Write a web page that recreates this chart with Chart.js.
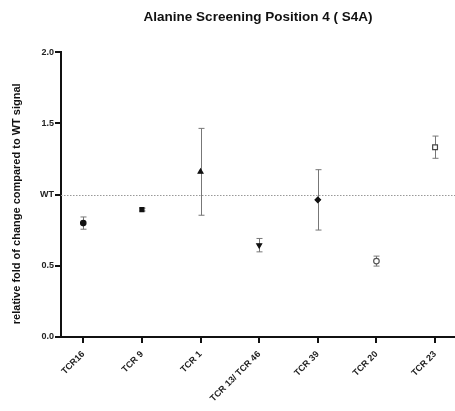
<!DOCTYPE html>
<html>
<head>
<meta charset="utf-8">
<script src="https://cdn.jsdelivr.net/npm/chart.js@4/dist/chart.umd.min.js"></script>
<style>
  html, body { margin: 0; padding: 0; background: #fff; overflow: hidden; }
  #wrap { width: 455px; height: 411px; }
</style>
</head>
<body>
<div id="wrap"><canvas id="alaChart"></canvas></div>
<script>
// data
var tcrLabels = ['TCR16', 'TCR 9', 'TCR 1', 'TCR 13/ TCR 46', 'TCR 39', 'TCR 20', 'TCR 23'];
var foldChange = [0.80, 0.895, 1.16, 0.645, 0.963, 0.533, 1.333];
var foldError = [0.043, 0.01, 0.305, 0.047, 0.212, 0.035, 0.078];
var yTickValues = [0, 0.5, 1.0, 1.5, 2.0];
var yTickLabels = ['0.0', '0.5', 'WT', '1.5', '2.0'];
var wtLevel = 1.0;

var markerStyles = ['circle', 'rect', 'triangle', 'triangle', 'rectRot', 'circle', 'rect'];
var markerRotation = [0, 0, 0, 180, 0, 0, 0];
var markerFill = ['#111', '#111', '#111', '#111', '#111', '#fff', '#fff'];
var markerEdge = ['#111', '#111', '#111', '#111', '#111', '#555', '#444'];
var markerSize = [2.7, 2.8, 2.8, 2.8, 2.8, 2.8, 3.4];

var points = foldChange.map(function (v, i) { return { x: i, y: v }; });

var errorBars = {
    id: 'errorBars',
    beforeDatasetsDraw: function (chart) {
        var ctx = chart.ctx, xs = chart.scales.x, ys = chart.scales.y;
        var area = chart.chartArea;
        // WT reference line
        var wy = Math.round(ys.getPixelForValue(wtLevel)) + 0.5;
        ctx.save();
        ctx.strokeStyle = '#999';
        ctx.lineWidth = 1;
        ctx.setLineDash([1.5, 1.5]);
        ctx.beginPath();
        ctx.moveTo(area.left, wy);
        ctx.lineTo(area.right, wy);
        ctx.stroke();
        ctx.setLineDash([]);
        ctx.strokeStyle = '#777';
        foldChange.forEach(function (v, i) {
            var px = Math.round(xs.getPixelForValue(i)) + 0.5;
            var top = ys.getPixelForValue(v + foldError[i]);
            var bot = ys.getPixelForValue(v - foldError[i]);
            ctx.beginPath();
            ctx.moveTo(px, top); ctx.lineTo(px, bot);
            ctx.moveTo(px - 3, top); ctx.lineTo(px + 3, top);
            ctx.moveTo(px - 3, bot); ctx.lineTo(px + 3, bot);
            ctx.stroke();
        });
        ctx.restore();
    }
};

Chart.defaults.font.family = '"Liberation Sans", Arial, sans-serif';
Chart.defaults.color = '#222';

new Chart(document.getElementById('alaChart').getContext('2d'), {
    type: 'scatter',
    data: {
        datasets: [{
            data: points,
            pointStyle: markerStyles,
            rotation: markerRotation,
            backgroundColor: markerFill,
            borderColor: markerEdge,
            borderWidth: 1.2,
            pointRadius: markerSize,
            pointHoverRadius: markerSize
        }]
    },
    options: {
        responsive: true,
        maintainAspectRatio: false,
        animation: false,
        layout: { autoPadding: false, padding: 0 },
        plugins: {
            legend: { display: false },
            tooltip: { enabled: false },
            title: {
                display: true,
                fullSize: false,
                text: 'Alanine Screening Position 4 ( S4A)',
                font: { size: 13.5, weight: 'bold' },
                color: '#111',
                padding: { top: 9, bottom: 27 }
            }
        },
        scales: {
            x: {
                type: 'linear',
                min: -0.38,
                max: 6.34,
                afterBuildTicks: function (scale) {
                    scale.ticks = tcrLabels.map(function (l, i) { return { value: i }; });
                },
                afterFit: function (scale) {
                    scale.height = 74;
                    scale.paddingRight = 0;
                    scale.paddingLeft = 0;
                },
                grid: { display: true, drawOnChartArea: false, drawTicks: true, tickLength: 6, color: '#111', lineWidth: 2 },
                border: { display: true, color: '#111', width: 2 },
                ticks: {
                    autoSkip: false,
                    minRotation: 45,
                    maxRotation: 45,
                    padding: 6,
                    font: { size: 9, weight: 'bold' },
                    color: '#222',
                    callback: function (v) { return tcrLabels[v]; }
                }
            },
            y: {
                min: 0,
                max: 2,
                afterBuildTicks: function (scale) {
                    scale.ticks = yTickValues.map(function (v) { return { value: v }; });
                },
                afterFit: function (scale) { scale.width = 61; },
                grid: { display: true, drawOnChartArea: false, drawTicks: true, tickLength: 6, color: '#111', lineWidth: 2 },
                border: { display: true, color: '#111', width: 2 },
                ticks: {
                    padding: 1,
                    font: { size: 9, weight: 'bold' },
                    color: '#222',
                    callback: function (v) {
                        var k = yTickValues.indexOf(v);
                        return k >= 0 ? yTickLabels[k] : '';
                    }
                },
                title: {
                    display: true,
                    text: 'relative fold of change compared to WT signal      ',
                    font: { size: 11, weight: 'bold' },
                    color: '#111',
                    padding: { top: 10, bottom: 0 }
                }
            }
        }
    },
    plugins: [errorBars]
});
</script>
</body>
</html>
